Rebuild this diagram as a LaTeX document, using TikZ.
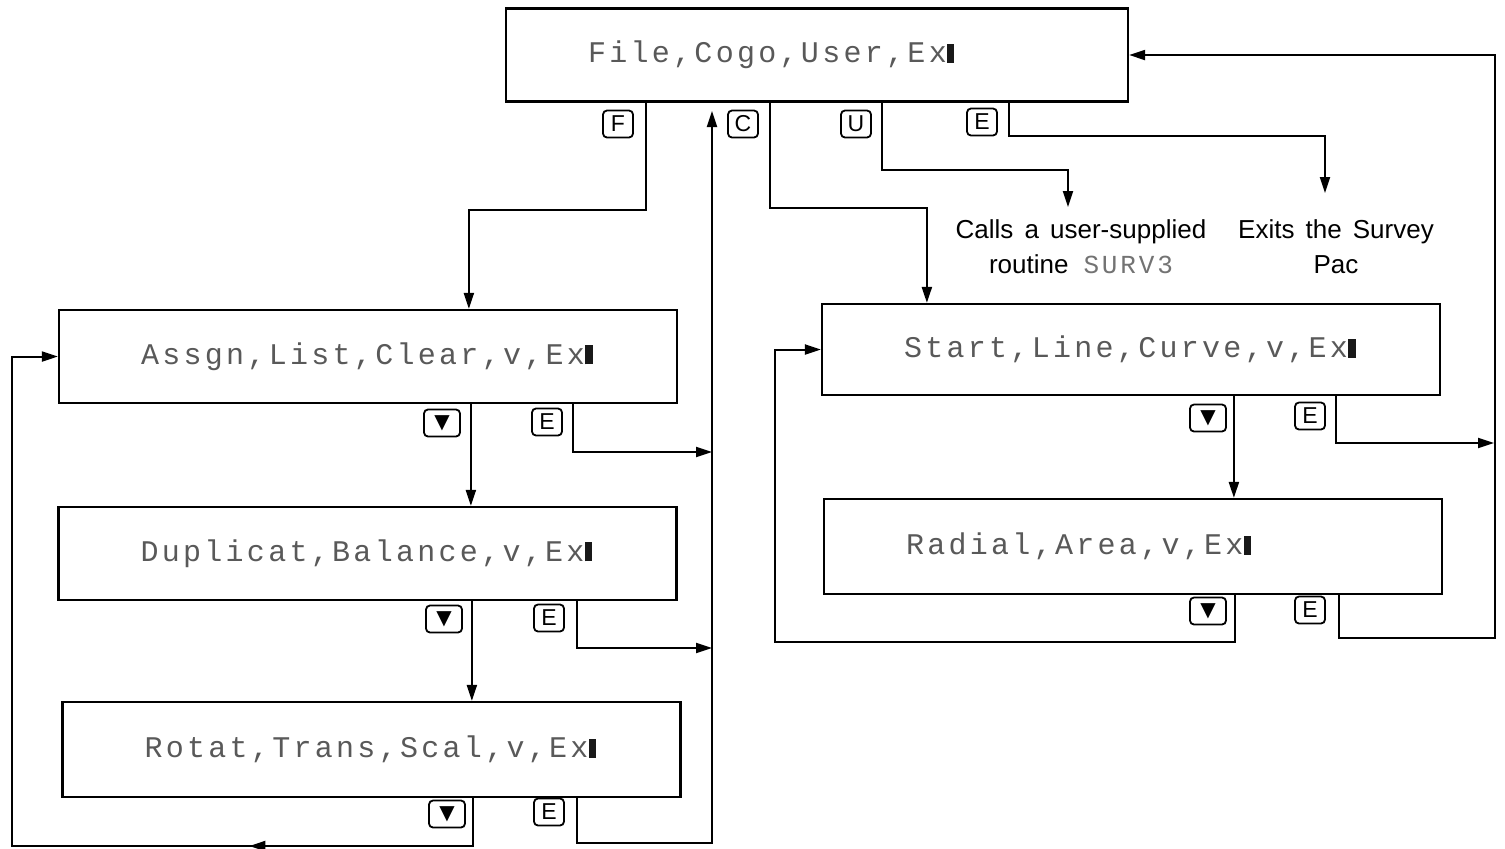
\documentclass[tikz,border=0pt]{standalone}
\usepackage{fontspec}
\setmainfont{Liberation Sans}
\newfontfamily\lcdfont{Liberation Mono}[LetterSpace=11.0]
\newfontfamily\symfont{DejaVu Sans}
\usetikzlibrary{arrows.meta,calc,decorations.markings}
\newcommand\lcdcursor{\textcolor{black!90}{\rule{3.8pt}{9.5pt}}}
\begin{document}
\begin{tikzpicture}[x=0.5pt,y=-0.5pt,line width=1pt,
  lcd/.style={draw,line width=1.1pt,minimum height=46.5pt,text width=227pt,inner xsep=41pt,
    align=left,font=\lcdfont\fontsize{15}{15}\selectfont,text=black!65},
  keybox/.style={draw,line width=0.9pt,rounded corners=2pt,minimum width=15pt,minimum height=13.5pt,
    inner sep=0pt,font=\fontsize{11.5}{11.5}\selectfont},
  keydown/.style={keybox,minimum width=18pt,font=\symfont\fontsize{10}{10}\selectfont},
  arr/.style={-{Triangle[length=8pt,width=5pt]}},
  midarr/.style={postaction={decorate,decoration={markings,
    mark=at position #1 with {\arrow{Triangle[length=8pt,width=5pt]}}}}},
  note/.style={align=center,font=\fontsize{13}{17.5}\selectfont}]
\useasboundingbox (0,0) rectangle (1505,848);

% screens
\node[lcd,text width=229pt] (top) at (817,55) {File,Cogo,User,Ex\lcdcursor};
\node[lcd] (assgn) at (368,356.5) {Assgn,List,Clear,v,Ex\lcdcursor};
\node[lcd] (dup) at (367.5,553.5) {Duplicat,Balance,v,Ex\lcdcursor};
\node[lcd,minimum height=47.5pt] (rot) at (371.5,749.5) {Rotat,Trans,Scal,v,Ex\lcdcursor};
\node[lcd,minimum height=45.5pt] (start) at (1131,349.5) {Start,Line,Curve,v,Ex\lcdcursor};
\node[lcd,minimum height=47.5pt] (radial) at (1133,546.5) {Radial,Area,v,Ex\lcdcursor};

% keys
\node[keybox] (kF) at (618,124) {F};
\node[keybox] (kC) at (743,124) {C};
\node[keybox] (kU) at (856,124) {U};
\node[keybox] (kE) at (982,122) {E};
\node[keydown] (kAd) at (442,423) {▼};
\node[keybox] (kAe) at (547,422) {E};
\node[keydown] (kDd) at (444,619) {▼};
\node[keybox] (kDe) at (549,618) {E};
\node[keydown] (kRd) at (447,814) {▼};
\node[keybox] (kRe) at (549,812) {E};
\node[keydown] (kSd) at (1208,418) {▼};
\node[keybox] (kSe) at (1310,416) {E};
\node[keydown] (kQd) at (1208,611) {▼};
\node[keybox] (kQe) at (1310,610) {E};

% notes
\node[note] (calls) at (1081,246.5) {Calls\hspace{0.15em} a\hspace{0.15em} user-supplied\\routine\hspace{0.3em} {\lcdfont\fontsize{13}{13}\selectfont\color{black!55}SURV3}};
\node[note] (exits) at (1336,246.5) {Exits\hspace{0.15em} the\hspace{0.15em} Survey\\Pac};

% free ends
\coordinate (uend) at (1068,207);
\coordinate (eend) at (1325,193);
\coordinate (busA) at (712,452);
\coordinate (busD) at (712,648);
\coordinate (busR) at (712,843);
\coordinate (upend) at (712,111);
\coordinate (lbot) at (12,846);
\coordinate (rbotS) at (1494,443);
\coordinate (rbot) at (1495,638);
\coordinate (sbot) at (775,642);

% top menu connectors
\draw[arr] ($(top.south west)+(141,0)$) -- ++(0,107) -| ($(assgn.north west)+(411,0)$);
\draw[arr] ($(top.south west)+(265,0)$) -- ++(0,105) -| ($(start.north west)+(106,0)$);
\draw[arr] ($(top.south west)+(377,0)$) -- ++(0,67) -| (uend);
\draw[arr] ($(top.south west)+(504,0)$) -- ++(0,33) -| (eend);

% left column
\draw[arr] ($(assgn.south west)+(413,0)$) -- ($(dup.north west)+(413.5,0)$);
\draw[arr] ($(assgn.south west)+(515,0)$) |- (busA);
\draw[arr] ($(dup.south west)+(414.5,0)$) -- ($(rot.north west)+(410.5,0)$);
\draw[arr] ($(dup.south west)+(519.5,0)$) |- (busD);
\draw[arr,midarr=0.26] ($(rot.south west)+(411.5,0)$) |- (lbot) |- (assgn.west);
\draw[arr] ($(rot.south west)+(515.5,0)$) |- (busR) -- (upend);

% right column
\draw[arr] ($(start.south west)+(413,0)$) -- ($(radial.north west)+(411,0)$);
\draw[arr] ($(start.south west)+(515,0)$) |- (rbotS);
\draw[arr] ($(radial.south west)+(412,0)$) |- (sbot) |- (start.west);
\draw[arr] ($(radial.south west)+(516,0)$) |- (rbot) |- (top.east);
\end{tikzpicture}
\end{document}
